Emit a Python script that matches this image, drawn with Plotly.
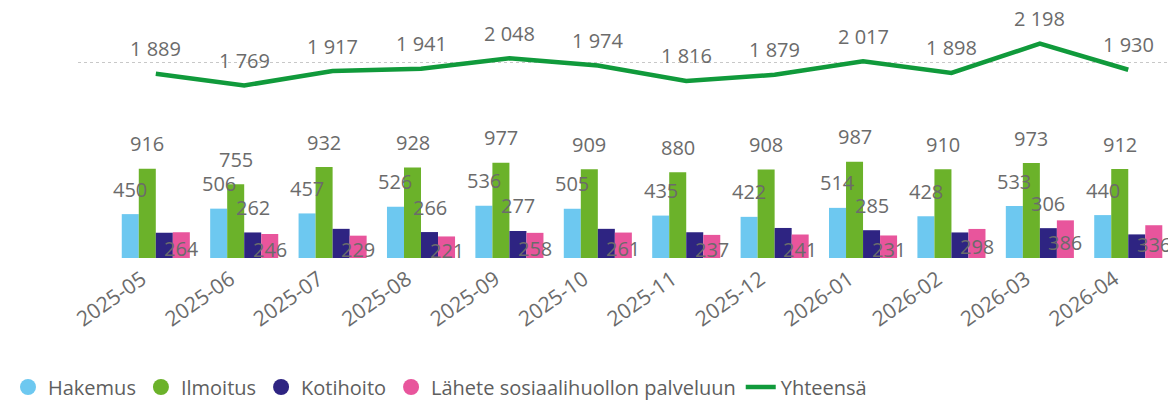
import plotly.graph_objects as go

months = ["2025-05", "2025-06", "2025-07", "2025-08", "2025-09", "2025-10",
          "2025-11", "2025-12", "2026-01", "2026-02", "2026-03", "2026-04"]
hakemus = [450, 506, 457, 526, 536, 505, 435, 422, 514, 428, 533, 440]
ilmoitus = [916, 755, 932, 928, 977, 909, 880, 908, 987, 910, 973, 912]
kotihoito = [259, 262, 299, 266, 277, 299, 264, 308, 285, 262, 306, 242]
lahete = [264, 246, 229, 221, 258, 261, 237, 241, 231, 298, 386, 336]
yhteensa = [1889, 1769, 1917, 1941, 2048, 1974, 1816, 1879, 2017, 1898, 2198, 1930]
# which Kotihoito data labels are visible in the original (others hidden by overlap)
kotihoito_label_shown = [False, True, False, True, True, False, False, False, True, False, True, False]

names = ["Hakemus", "Ilmoitus", "Kotihoito", "Lähete sosiaalihuollon palveluun"]
colors = ["#6DC8F0", "#6BB22A", "#2E2482", "#E8559C"]
line_color = "#109A3B"
label_color = "#6B6B6B"
FONT = "Open Sans"

def fmt(v):
    return f"{v:,}".replace(",", " ")

x = list(range(len(months)))
bargap = 0.23
bw = (1 - bargap) / 4

fig = go.Figure()
series = [hakemus, ilmoitus, kotihoito, lahete]
for name, vals, col in zip(names, series, colors):
    fig.add_trace(go.Bar(x=x, y=vals, name=name, marker_color=col,
                         marker_line_width=0, showlegend=False, hoverinfo="y"))

fig.add_trace(go.Scatter(x=x, y=yhteensa, mode="lines", name="Yhteensä",
                         line=dict(color=line_color, width=4.5), showlegend=False))

# legend entries with circle markers
for name, col in zip(names, colors):
    fig.add_trace(go.Scatter(x=[None], y=[None], mode="markers", name=name,
                             marker=dict(symbol="circle", size=16, color=col)))
fig.add_trace(go.Scatter(x=[None], y=[None], mode="lines", name="Yhteensä",
                         line=dict(color=line_color, width=4.5)))

annotations = []
lf = dict(family=FONT, size=20, color=label_color)
for i in x:
    annotations.append(dict(x=i, y=yhteensa[i], text=fmt(yhteensa[i]), showarrow=False,
                            yshift=25, font=lf, xref="x", yref="y"))
    for j, vals in enumerate(series):
        xo = i + (j - 1.5) * bw
        if j in (0, 1):
            annotations.append(dict(x=xo, y=vals[i], text=fmt(vals[i]), showarrow=False,
                                    yshift=25, font=lf))
        elif j == 2:
            if kotihoito_label_shown[i]:
                annotations.append(dict(x=xo, y=vals[i], text=fmt(vals[i]), showarrow=False,
                                        yshift=25, font=lf))
        else:
            annotations.append(dict(x=xo, y=vals[i] / 2, text=fmt(vals[i]), showarrow=False,
                                    yshift=-3, font=lf))

# page body has an 8px margin, so the figure is 8px smaller and everything is offset
fig.update_layout(
    width=1168, height=396, autosize=False,
    margin=dict(l=70, r=0, t=10, b=146),
    plot_bgcolor="white", paper_bgcolor="white",
    barmode="group", bargap=bargap, bargroupgap=0,
    font=dict(family=FONT, color=label_color),
    annotations=annotations,
    xaxis=dict(tickmode="array", tickvals=x, ticktext=months, tickangle=-35,
               range=[-0.88, 11.54], showgrid=False, zeroline=False, showline=False,
               ticks="", ticklabelstandoff=4, ticklabelshift=-14,
               tickfont=dict(family=FONT, size=21, color=label_color)),
    yaxis=dict(range=[0, 2461], tickvals=[0, 2000], showticklabels=False,
               showgrid=True, gridcolor="#C8C8C8", griddash="dot", gridwidth=1,
               zeroline=False, showline=False),
    legend=dict(orientation="h", xref="container", yref="container", x=0.0, y=0.043,
                xanchor="left", yanchor="middle", itemwidth=30,
                font=dict(family=FONT, size=20, color="#5E5E5E"),
                bgcolor="rgba(0,0,0,0)"),
    showlegend=True,
)

fig.write_html("out.html")
